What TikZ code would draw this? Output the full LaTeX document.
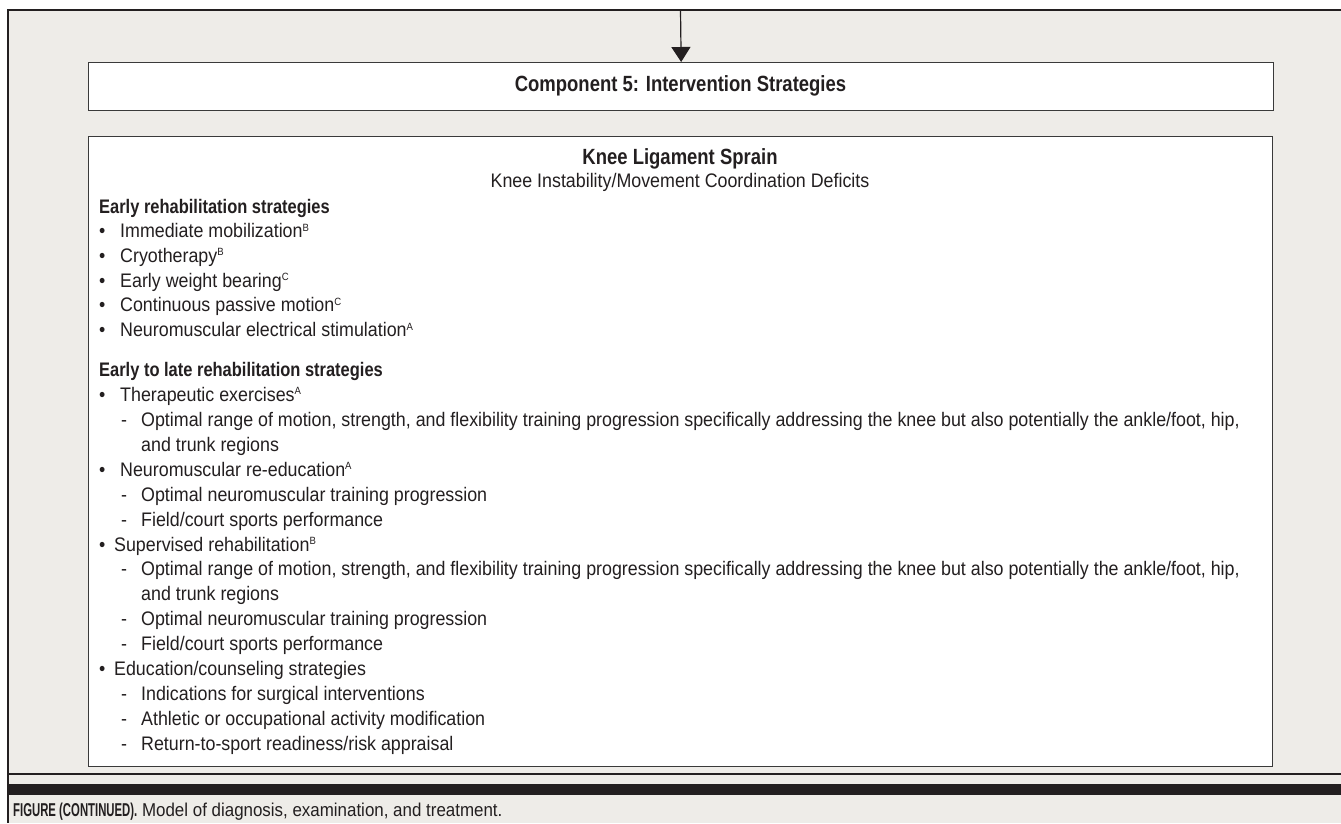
\documentclass[tikz,border=0pt]{standalone}
\usepackage{fontspec}
\setmainfont[FakeStretch=0.91]{Liberation Sans}
\newfontfamily\boldf[FakeStretch=0.84]{Liberation Sans}
\newfontfamily\capbf[FakeStretch=0.61]{Liberation Sans}
\usetikzlibrary{arrows.meta}
\definecolor{bgc}{HTML}{EEECE8}
\definecolor{ink}{HTML}{231F20}
\definecolor{boxline}{HTML}{3A3A3A}
\newcommand\supl[1]{\raisebox{6.5pt}{\fontsize{10.5}{10.5}\selectfont #1}}
\newcommand\bul[1]{\makebox[21pt][l]{•}#1}
\newcommand\bult[1]{\makebox[15pt][l]{•}#1}
\newcommand\sub[1]{\hspace*{22pt}\makebox[20pt][l]{-}#1}
\newcommand\subc[1]{\hspace*{42pt}#1}
\begin{document}
\begin{tikzpicture}[x=1pt,y=-1pt,
  txt/.style={anchor=base west, inner sep=0pt, text=ink, font=\fontsize{19.6}{24}\selectfont},
  hdr/.style={anchor=base west, inner sep=0pt, text=ink, font=\boldf\bfseries\fontsize{19.6}{24}\selectfont},
  ttl/.style={anchor=base, inner sep=0pt, text=ink, font=\boldf\bfseries\fontsize{22}{24}\selectfont},
  subttl/.style={anchor=base, inner sep=0pt, text=ink, font=\fontsize{19.6}{24}\selectfont},
  boxst/.style={draw=boxline, line width=1.3pt, fill=white, inner sep=0pt},
  frame/.style={draw=ink, line width=1.4pt}]
\useasboundingbox (0,0) rectangle (1341,823);
\fill[white] (0,0) rectangle (1341,823);
\fill[bgc] (8,10) rectangle (1341,823);
\draw[frame] (1341,10) -- (8,10) -- (8,823);
\draw[frame] (8,774) -- (1341,774);
\fill[ink] (8,784) rectangle (1341,795);

\node[boxst, anchor=north west, minimum width=1185pt, minimum height=48pt] (comp) at (88,62) {};
\node[text=ink, font=\boldf\bfseries\fontsize{22}{24}\selectfont, anchor=base] (comptxt) at (680.5,91) {Component 5: Intervention Strategies};
\node[boxst, anchor=north west, minimum width=1184pt, minimum height=630pt] (knee) at (88,136) {};

\coordinate (arrtop) at (680.5,10);
\draw[ink, line width=1.2pt, -{Triangle[width=19pt,length=15pt]}] (arrtop) -- (comp.north);

\node[ttl] (title) at (680,164) {Knee Ligament Sprain};
\node[subttl] (subtitle) at (680,187) {Knee Instability/Movement Coordination Deficits};

\node[hdr] (h1) at (99,213) {Early rehabilitation strategies};
\node[txt] (a1) at (99,237.7) {\bul{Immediate mobilization\supl{B}}};
\node[txt] (a2) at (99,262.4) {\bul{Cryotherapy\supl{B}}};
\node[txt] (a3) at (99,287.1) {\bul{Early weight bearing\supl{C}}};
\node[txt] (a4) at (99,311.8) {\bul{Continuous passive motion\supl{C}}};
\node[txt] (a5) at (99,336.5) {\bul{Neuromuscular electrical stimulation\supl{A}}};

\node[hdr] (h2) at (99,376.5) {Early to late rehabilitation strategies};
\node[txt] (b1) at (99,401.4) {\bul{Therapeutic exercises\supl{A}}};
\node[txt] (b2) at (99,426.4) {\sub{Optimal range of motion, strength, and flexibility training progression specifically addressing the knee but also potentially the ankle/foot, hip,}};
\node[txt] (b3) at (99,451.3) {\subc{and trunk regions}};
\node[txt] (b4) at (99,476.2) {\bul{Neuromuscular re-education\supl{A}}};
\node[txt] (b5) at (99,501.2) {\sub{Optimal neuromuscular training progression}};
\node[txt] (b6) at (99,526.1) {\sub{Field/court sports performance}};
\node[txt] (b7) at (99,551.0) {\bult{Supervised rehabilitation\supl{B}}};
\node[txt] (b8) at (99,575.9) {\sub{Optimal range of motion, strength, and flexibility training progression specifically addressing the knee but also potentially the ankle/foot, hip,}};
\node[txt] (b9) at (99,600.9) {\subc{and trunk regions}};
\node[txt] (b10) at (99,625.8) {\sub{Optimal neuromuscular training progression}};
\node[txt] (b11) at (99,650.7) {\sub{Field/court sports performance}};
\node[txt] (b12) at (99,675.7) {\bult{Education/counseling strategies}};
\node[txt] (b13) at (99,700.6) {\sub{Indications for surgical interventions}};
\node[txt] (b14) at (99,725.5) {\sub{Athletic or occupational activity modification}};
\node[txt] (b15) at (99,750.4) {\sub{Return-to-sport readiness/risk appraisal}};

\node[anchor=base west, inner sep=0pt, text=ink, font=\fontsize{18.6}{22}\selectfont] (caption) at (13,816.5) {{\capbf\bfseries FIGURE (CONTINUED).} Model of diagnosis, examination, and treatment.};
\end{tikzpicture}
\end{document}
